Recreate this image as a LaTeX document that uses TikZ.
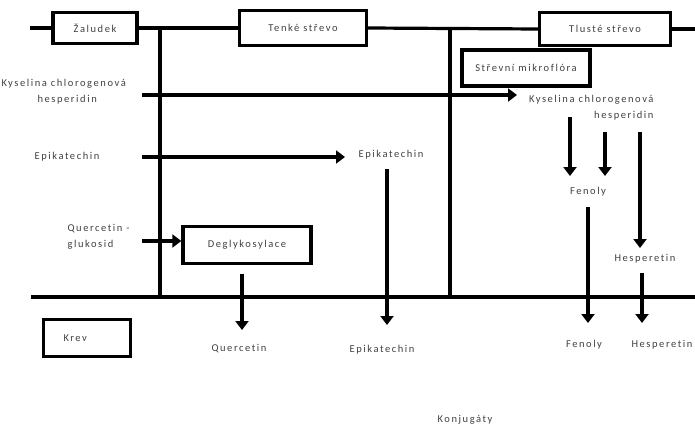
\documentclass[tikz,border=0pt]{standalone}
\usepackage{fontspec}
\setmainfont[LetterSpace=15, Ligatures=NoCommon]{Carlito}
\usepackage{tikz}
\usetikzlibrary{arrows.meta, calc}

\tikzset{
    organ/.style={draw, line width=3.4pt, inner sep=0pt, text=black!75},
    bar/.style={line width=3.2pt},
    flow/.style={line width=3.2pt, -{Triangle[width=13pt, length=9pt]}},
    lbl/.style={text=black!75}
}

\begin{document}
\begin{tikzpicture}[x=1pt, y=-1pt, every node/.style={font=\fontsize{10.5}{16}\selectfont}]

                \coordinate (A) at (0, 0);
                \useasboundingbox ($ (A) + (0, 0) $) rectangle ($ (A) + (695, 428) $);

                % organs
                \node[organ, minimum width=84pt, minimum height=31pt] (zaludek) at ($ (A) + (95, 28) $) {Žaludek};
                \node[organ, minimum width=127pt, minimum height=35pt] (tenke) at ($ (A) + (303, 28) $) {Tenké střevo};
                \node[organ, minimum width=131pt, minimum height=33pt] (tluste) at ($ (A) + (605, 29) $) {Tlusté střevo};
                \node[organ, minimum width=128pt, minimum height=36pt] (mikro) at ($ (A) + (526, 68) $) {Střevní mikroflóra};
                \node[organ, minimum width=128pt, minimum height=37pt] (deglyk) at ($ (A) + (247, 245) $) {Deglykosylace};
                \node[organ, text width=47pt, inner xsep=20pt, minimum height=37pt, align=left] (krev) at ($ (A) + (87, 338) $) {Krev};

                % gut line
                \coordinate (gutL) at ($ (A) + (30, 28) $);
                \coordinate (gutR) at ($ (A) + (695, 29) $);
                \draw[bar] (gutL) -- (zaludek.west);
                \draw[bar] (zaludek.east) -- (tenke.west);
                \draw[bar] (tenke.east) -- (tluste.west);
                \draw[bar] (tluste.east) -- (gutR);

                % blood line and borders
                \coordinate (bloodL) at ($ (A) + (31, 297) $);
                \coordinate (bloodR) at ($ (A) + (695, 297) $);
                \draw[bar] (bloodL) -- (bloodR);
                \draw[bar] ($ (A) + (160, 28) $) -- ($ (A) + (160, 297) $);
                \draw[bar] ($ (A) + (450, 29) $) -- ($ (A) + (450, 297) $);

                % inputs
                \node[lbl, align=left, anchor=west] (kysL) at ($ (A) + (-2, 92) $) {Kyselina chlorogenová\\\hspace*{36pt}hesperidin};
                \node[lbl] (epiL) at ($ (A) + (67, 157) $) {Epikatechin};
                \node[lbl, align=left, anchor=west] (querL) at ($ (A) + (64, 237) $) {Quercetin -\\glukosid};

                % colon products
                \node[lbl, align=right, anchor=east] (kysR) at ($ (A) + (657, 108) $) {Kyselina chlorogenová\\hesperidin};
                \node[lbl] (epiR) at ($ (A) + (391, 155) $) {Epikatechin};
                \node[lbl] (fenM) at ($ (A) + (588, 192) $) {Fenoly};
                \node[lbl] (hesM) at ($ (A) + (645, 259) $) {Hesperetin};

                % blood side
                \node[lbl] (querB) at ($ (A) + (239, 349) $) {Quercetin};
                \node[lbl] (epiB) at ($ (A) + (382, 350) $) {Epikatechin};
                \node[lbl] (fenB) at ($ (A) + (584, 345) $) {Fenoly};
                \node[lbl] (hesB) at ($ (A) + (662, 345) $) {Hesperetin};
                \node[lbl] (konj) at ($ (A) + (465, 420) $) {Konjugáty};

                % horizontal arrows
                \coordinate (querIn) at ($ (A) + (142, 241) $);
                \draw[flow] ($ (A) + (142, 95) $) -- ($ (A) + (517, 95) $);
                \draw[flow] ($ (A) + (142, 157) $) -- ($ (A) + (345, 157) $);
                \draw[flow] (querIn) -- (querIn -| deglyk.west);

                % vertical arrows
                \draw[flow] ($ (A) + (242, 274) $) -- ($ (A) + (242, 330) $);
                \draw[flow] ($ (A) + (387, 169) $) -- ($ (A) + (387, 325) $);
                \draw[flow] ($ (A) + (570, 117) $) -- ($ (A) + (570, 176) $);
                \draw[flow] ($ (A) + (605, 132) $) -- ($ (A) + (605, 176) $);
                \draw[flow] ($ (A) + (640, 132) $) -- ($ (A) + (640, 248) $);
                \draw[flow] ($ (A) + (588, 207) $) -- ($ (A) + (588, 323) $);
                \draw[flow] ($ (A) + (642, 273) $) -- ($ (A) + (642, 323) $);

\end{tikzpicture}
\end{document}
